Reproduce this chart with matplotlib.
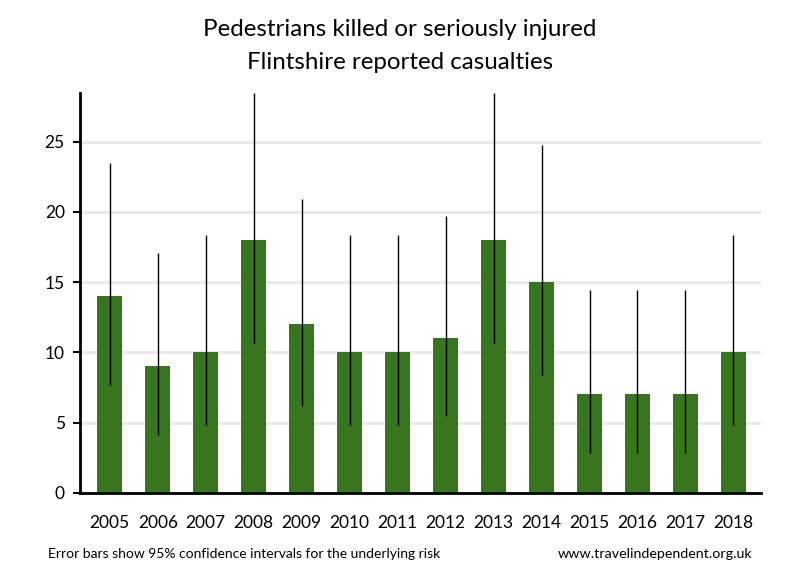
import matplotlib
matplotlib.use("Agg")
import matplotlib.pyplot as plt
import numpy as np

plt.rcParams['font.family'] = ['Lato', 'DejaVu Sans']

# ---- data ----
years = ["2005", "2006", "2007", "2008", "2009", "2010", "2011",
         "2012", "2013", "2014", "2015", "2016", "2017", "2018"]
casualties = [14, 9, 10, 18, 12, 10, 10, 11, 18, 15, 7, 7, 7, 10]
ci_low = [7.65, 4.12, 4.80, 10.67, 6.20, 4.80, 4.80,
          5.49, 10.67, 8.40, 2.81, 2.81, 2.81, 4.80]
ci_high = [23.49, 17.08, 18.39, 28.45, 20.96, 18.39, 18.39,
           19.68, 28.45, 24.74, 14.42, 14.42, 14.42, 18.39]

green = "#37761f"

fig = plt.figure(figsize=(8, 5.8), dpi=100)
ax = fig.add_axes([0.1, 0.1505, 0.851, 0.6885])

x = np.arange(len(years))
vals = np.array(casualties)
yerr = [vals - np.array(ci_low), np.array(ci_high) - vals]

ax.bar(x, vals, width=0.52, color=green, zorder=2)
ax.errorbar(x, vals, yerr=yerr, fmt="none", ecolor="black",
            elinewidth=1, capsize=0, zorder=3)

ax.set_xlim(-0.62, 13.57)
ax.set_ylim(0, 28.45)
ax.set_yticks([0, 5, 10, 15, 20, 25])
ax.set_xticks(x)
ax.set_xticklabels(years)
ax.tick_params(axis="x", length=0, pad=16, labelsize=12.5)
ax.tick_params(axis="y", length=5, width=1.5, pad=6, labelsize=12.5)

ax.grid(axis="y", color="#e8e8e8", linewidth=2, zorder=0)
for s in ["top", "right"]:
    ax.spines[s].set_visible(False)
for s in ["left", "bottom"]:
    ax.spines[s].set_linewidth(2)

fig.text(0.5, 0.949, "Pedestrians killed or seriously injured",
         ha="center", va="center", fontsize=17.4)
fig.text(0.5, 0.893, "Flintshire reported casualties",
         ha="center", va="center", fontsize=17.4)

fig.text(0.06, 0.045, "Error bars show 95% confidence intervals for the underlying risk",
         ha="left", va="center", fontsize=10)
fig.text(0.94, 0.045, "www.travelindependent.org.uk",
         ha="right", va="center", fontsize=10.3)

fig.savefig("out.png", dpi=100)
